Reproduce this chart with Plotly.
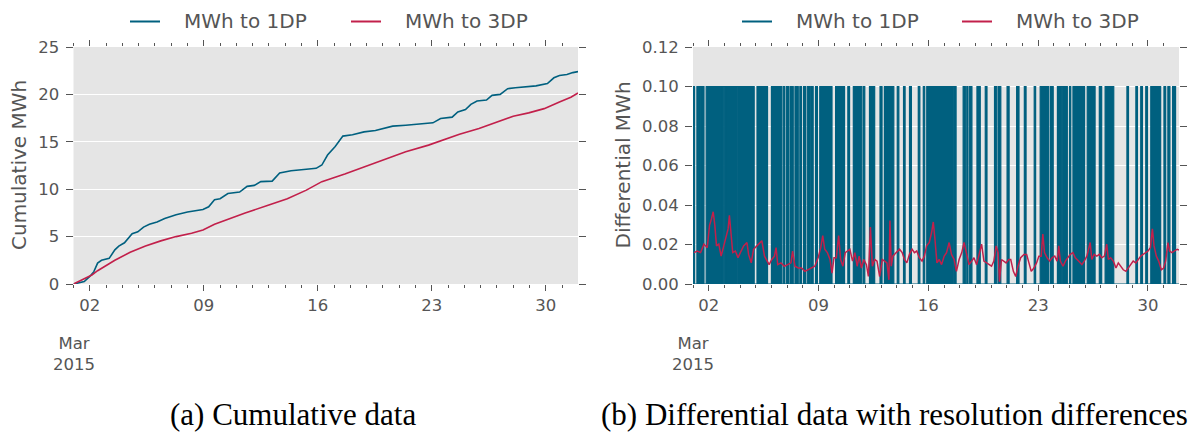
import pandas as pd
import plotly.graph_objects as go

BASE = pd.Timestamp("2015-03-01")

# ---- (a) cumulative data: day offset from 1 Mar 2015 00:00, MWh ----
cum_1dp_day = [0, 0.42, 0.66, 1.0, 1.25, 1.48, 1.72, 2.19, 2.54, 2.78, 3.13, 3.6, 3.95, 4.3, 4.66,
               5.13, 5.6, 6.3, 7.0, 7.95, 8.3, 8.66, 9.0, 9.48, 10.2, 10.66, 11.1, 11.5, 12.2,
               12.66, 13.36, 14.3, 14.9, 15.25, 15.6, 16.07, 16.54, 17.13, 17.84, 18.54, 19.0,
               19.6, 20.4, 21.4, 22.07, 22.54, 23.25, 23.6, 24.07, 24.4, 24.78, 25.36, 25.7,
               26.2, 26.66, 27.13, 27.72, 28.4, 29.1, 29.5, 29.84, 30.3, 30.66, 30.98]
cum_1dp_mwh = [0, 0.14, 0.25, 0.8, 1.3, 2.2, 2.5, 2.7, 3.6, 4.0, 4.35, 5.3, 5.5, 6.0, 6.3,
               6.55, 6.9, 7.3, 7.6, 7.85, 8.15, 8.9, 9.0, 9.55, 9.7, 10.3, 10.4, 10.8, 10.85,
               11.7, 11.95, 12.1, 12.2, 12.55, 13.6, 14.5, 15.6, 15.75, 16.05, 16.2, 16.4,
               16.65, 16.75, 16.9, 17.0, 17.45, 17.6, 18.15, 18.4, 18.95, 19.3, 19.4, 19.9,
               20.0, 20.6, 20.7, 20.8, 20.9, 21.15, 21.75, 22.0, 22.1, 22.3, 22.4]

cum_3dp_day = [0, 0.42, 1.13, 1.48, 2.07, 2.54, 3.48, 4.42, 5.36, 6.3, 7.25, 7.95, 8.66, 9.6,
               10.54, 11.95, 13.13, 14.3, 15.25, 16.66, 17.84, 19.0, 20.4, 21.8, 22.8, 23.7,
               24.9, 26.07, 27.0, 27.95, 28.9, 29.84, 30.54, 30.98]
cum_3dp_mwh = [0, 0.35, 0.95, 1.4, 2.0, 2.5, 3.35, 4.0, 4.55, 5.0, 5.35, 5.7, 6.3, 6.9,
               7.5, 8.3, 9.0, 9.9, 10.8, 11.6, 12.35, 13.05, 13.95, 14.65, 15.25, 15.8,
               16.4, 17.1, 17.7, 18.05, 18.5, 19.2, 19.7, 20.15]

# ---- (b) differential data ----
diff_3dp_day = [0.063, 0.274, 0.485, 0.696, 0.907, 1.055, 1.181, 1.287, 1.392, 1.498, 1.646, 1.793,
                1.962, 2.110, 2.236, 2.321, 2.426, 2.532, 2.700, 2.869, 3.017, 3.228, 3.439, 3.544,
                3.713, 3.861, 4.072, 4.241, 4.388, 4.557, 4.705, 4.852, 5.021, 5.190, 5.295, 5.401,
                5.612, 5.823, 6.034, 6.245, 6.350, 6.498, 6.709, 6.920, 7.131, 7.342, 7.553, 7.764,
                7.975, 8.143, 8.270, 8.397, 8.565, 8.734, 8.861, 8.987, 9.135, 9.283, 9.409, 9.557,
                9.705, 9.873,
                10.000, 10.169, 10.316, 10.464, 10.591, 10.738, 10.886, 11.055, 11.181, 11.308,
                11.435, 11.582, 11.730, 11.899, 12.068, 12.215, 12.363, 12.489, 12.553, 12.637,
                12.743, 12.954, 13.165, 13.333, 13.481, 13.629, 13.797, 13.966, 14.114, 14.262,
                14.430, 14.599, 14.747, 14.895, 15.063, 15.211, 15.316, 15.422, 15.549, 15.696,
                15.844, 16.013, 16.160, 16.329, 16.477, 16.646, 16.793, 16.962, 17.131, 17.278,
                17.426, 17.595, 17.764, 17.911, 18.080, 18.270, 18.397, 18.544, 18.692, 18.861,
                19.030, 19.177, 19.325, 19.451, 19.536, 19.662, 19.810, 19.958, 20.127,
                20.253, 20.422, 20.570, 20.717, 20.886, 21.097, 21.266, 21.414, 21.561, 21.730,
                21.899, 22.046, 22.194, 22.300, 22.405, 22.574, 22.743, 22.890, 23.059, 23.207,
                23.312, 23.418, 23.586, 23.734, 23.882, 24.051, 24.219, 24.367, 24.578, 24.789,
                24.937, 25.105, 25.316, 25.422, 25.570, 25.738, 25.907, 26.055, 26.224, 26.371,
                26.477, 26.624, 26.793, 26.962, 27.110, 27.278, 27.426, 27.595, 27.743, 27.890,
                28.059, 28.228, 28.376, 28.544, 28.692, 28.861, 29.008, 29.156, 29.283, 29.388,
                29.536, 29.684, 29.852, 30.000, 30.127, 30.274, 30.380, 30.527, 30.696, 30.865,
                30.979]
diff_3dp_mwh = [.0159, .0167, .0159, .0202, .0184, .0297, .0331, .0366, .0297, .0193, .0202, .0141,
                .0193, .0245, .0279, .0348, .0245, .0159, .0167, .0133, .0159, .0193, .0210, .0150,
                .0107, .0176, .0193, .0210, .0219, .0141, .0116, .0098, .0124, .0141, .0184, .0098,
                .0107, .0090, .0098, .0107, .0167, .0090, .0081, .0081, .0064, .0072, .0081, .0090,
                .0133, .0184, .0245, .0176, .0159, .0124, .0055, .0133, .0133, .0245, .0124, .0090,
                .0159, .0167,
                .0176, .0116, .0159, .0090, .0141, .0081, .0124, .0098, .0038, .0288,
                .0090, .0124, .0116, .0038, .0124, .0116, .0107, .0021, .0322, .0090,
                .0141, .0159, .0176, .0159, .0124, .0107, .0150, .0176, .0159, .0167,
                .0133, .0116, .0141, .0193, .0210, .0262, .0314, .0228, .0107, .0124,
                .0098, .0141, .0159, .0210, .0150, .0124, .0064, .0124, .0159, .0210,
                .0159, .0098, .0116, .0133, .0098, .0159, .0202, .0116, .0107, .0098,
                .0090, .0116, .0193, .0159, .0012, .0124, .0116, .0107, .0124,
                .0124, .0064, .0038, .0090, .0133, .0150, .0150, .0107, .0064, .0081,
                .0107, .0141, .0141, .0253, .0159, .0133, .0116, .0133, .0141, .0116,
                .0193, .0116, .0090, .0116, .0133, .0150, .0159, .0133, .0116, .0098,
                .0116, .0141, .0210, .0124, .0150, .0141, .0150, .0133, .0141, .0202,
                .0124, .0133, .0116, .0081, .0107, .0090, .0072, .0064, .0081, .0098,
                .0116, .0107, .0124, .0141, .0150, .0159, .0167, .0184, .0279, .0193,
                .0141, .0116, .0072, .0081, .0116, .0210, .0167, .0159, .0167, .0176,
                .0172]

# periods (day offsets) in which the 1DP differential is at its 0.1 MWh step
on_1dp_start = [0.04, 0.25, 0.45, 0.84, 1.92, 2.09, 2.91, 4.08, 5.0, 5.75, 5.95, 6.18, 6.50, 6.81,
                7.05, 7.28, 7.55, 7.81, 8.08, 9.09, 9.87, 10.22, 10.86, 11.25, 11.92, 12.2, 13.02,
                13.42, 13.80, 14.36, 14.68, 14.9, 16.69, 17.22, 17.45, 17.6, 18.1, 18.63, 19.22,
                19.47, 20.02, 20.63, 21.12, 21.75, 22.13, 22.6, 22.79, 23.23, 23.54, 24.0, 24.22,
                25.13, 25.9, 26.27, 27.66, 28.23, 28.54, 28.86, 29.18, 30.02, 30.27, 30.57]
on_1dp_end = [0.10, 0.38, 0.70, 1.86, 2.02, 2.85, 3.90, 4.75, 5.65, 5.84, 6.08, 6.39, 6.71, 6.92,
              7.17, 7.47, 7.66, 7.93, 8.86, 9.66, 9.98, 10.76, 10.95, 11.58, 12.05, 12.8, 13.12,
              13.52, 13.92, 14.46, 14.77, 16.63, 16.77, 17.36, 17.50, 17.78, 18.31, 18.74, 19.37,
              19.62, 20.15, 20.78, 21.23, 21.84, 22.53, 22.68, 22.96, 23.50, 23.86, 24.08, 24.96,
              25.63, 26.05, 26.82, 27.76, 28.33, 28.65, 28.97, 29.81, 30.13, 30.40, 30.76]
ONE_DP_STEP = 0.1

series_names = ["MWh to 1DP", "MWh to 3DP"]
x_tick_days = [1, 8, 15, 22, 29]
x_tick_labels = ["02", "09", "16", "23", "30"]
y1_ticks = [0, 5, 10, 15, 20, 25]
y2_ticks = [0.0, 0.02, 0.04, 0.06, 0.08, 0.10, 0.12]

BLUE = "#00607F"
RED = "#C2204B"
COLORS = [BLUE, RED]
GREY_TXT = "#555555"
FONT = "DejaVu Sans"
TICK_SIZE = 16.5


def to_dt(days):
    return [BASE + pd.Timedelta(days=d) for d in days]


# step series for the 1DP differential
step_days, step_vals = [0.0], [0.0]
for s, e in zip(on_1dp_start, on_1dp_end):
    step_days += [s, e]
    step_vals += [ONE_DP_STEP, 0.0]
step_days.append(30.979)
step_vals.append(0.0)

fig = go.Figure()

fig.add_trace(go.Scatter(x=to_dt(cum_1dp_day), y=cum_1dp_mwh, mode="lines", name=series_names[0],
                         line=dict(color=BLUE, width=1.6), xaxis="x", yaxis="y"))
fig.add_trace(go.Scatter(x=to_dt(cum_3dp_day), y=cum_3dp_mwh, mode="lines", name=series_names[1],
                         line=dict(color=RED, width=1.6), xaxis="x", yaxis="y"))
fig.add_trace(go.Scatter(x=to_dt(step_days), y=step_vals, mode="lines", name=series_names[0],
                         line=dict(color=BLUE, width=1.2, shape="hv"), fill="tozeroy",
                         fillcolor=BLUE, xaxis="x2", yaxis="y2"))
fig.add_trace(go.Scatter(x=to_dt(diff_3dp_day), y=diff_3dp_mwh, mode="lines", name=series_names[1],
                         line=dict(color=RED, width=1.5), xaxis="x2", yaxis="y2"))

W, H = 1192, 432


def px_x(p):
    return p / W


def px_y(p):
    return 1 - p / H


x_start = BASE
x_end = BASE + pd.Timedelta(days=30.979)

xaxis_common = dict(
    type="date", range=[x_start, x_end], tickmode="array",
    tickvals=to_dt(x_tick_days), ticktext=x_tick_labels, automargin=False,
    ticks="outside", ticklen=6, tickwidth=1, tickcolor=GREY_TXT, mirror="ticks",
    showgrid=False, zeroline=False, showline=False,
    tickfont=dict(family=FONT, size=TICK_SIZE, color=GREY_TXT),
    minor=dict(ticks="outside", ticklen=3, tickwidth=1, tickcolor=GREY_TXT, dtick=86400000,
               tick0="2015-03-01", showgrid=False),
)
yaxis_common = dict(
    ticks="outside", ticklen=7, tickwidth=1, tickcolor=GREY_TXT, mirror="ticks",
    showgrid=True, gridcolor="white", gridwidth=1, zeroline=False, showline=False,
    automargin=False, ticklabelstandoff=3,
    tickfont=dict(family=FONT, size=TICK_SIZE, color=GREY_TXT),
)

fig.update_layout(
    width=W, height=H, margin=dict(l=0, r=0, t=0, b=0, autoexpand=False),
    paper_bgcolor="white", plot_bgcolor="#E5E5E5", showlegend=False,
    font=dict(family=FONT, color=GREY_TXT),
    xaxis=dict(domain=[px_x(73.5), px_x(578)], anchor="y", **xaxis_common),
    yaxis=dict(domain=[px_y(284), px_y(47)], anchor="x", range=[0, 25], tickvals=y1_ticks,
               **yaxis_common),
    xaxis2=dict(domain=[px_x(693), px_x(1179)], anchor="y2", **xaxis_common),
    yaxis2=dict(domain=[px_y(284), px_y(47)], anchor="x2", range=[0, 0.12], tickvals=y2_ticks,
                tickformat=".2f", **yaxis_common),
)

annotations = []
shapes = []

# y-axis titles
annotations.append(dict(xref="paper", yref="paper", x=px_x(18.5), y=px_y(165.5),
                        text="Cumulative MWh", textangle=-90, showarrow=False,
                        xanchor="center", yanchor="middle",
                        font=dict(family=FONT, size=20, color=GREY_TXT)))
annotations.append(dict(xref="paper", yref="paper", x=px_x(622), y=px_y(165.5),
                        text="Differential MWh", textangle=-90, showarrow=False,
                        xanchor="center", yanchor="middle",
                        font=dict(family=FONT, size=20, color=GREY_TXT)))

# legends above each panel (line sample + label)
legend_line_x = [[130, 351], [742, 962]]
for panel in range(2):
    for i, name in enumerate(series_names):
        x0 = legend_line_x[panel][i]
        shapes.append(dict(type="line", xref="paper", yref="paper",
                           x0=px_x(x0), x1=px_x(x0 + 30), y0=px_y(21.5), y1=px_y(21.5),
                           line=dict(color=COLORS[i], width=2)))
        annotations.append(dict(xref="paper", yref="paper", x=px_x(x0 + 52), y=px_y(21),
                                text=name, showarrow=False, xanchor="left", yanchor="middle",
                                font=dict(family=FONT, size=20, color=GREY_TXT)))

for xr in ["x", "x2"]:
    annotations.append(dict(xref=xr, yref="paper", x=x_start, y=px_y(332), text="Mar<br>2015",
                            showarrow=False, xanchor="center", yanchor="top",
                            font=dict(family=FONT, size=TICK_SIZE, color=GREY_TXT)))
annotations.append(dict(xref="paper", yref="paper", x=px_x(293), y=px_y(414),
                        text="(a) Cumulative data", showarrow=False, xanchor="center",
                        yanchor="middle", font=dict(family="Liberation Serif", size=31, color="black")))
annotations.append(dict(xref="paper", yref="paper", x=px_x(894), y=px_y(414),
                        text="(b) Differential data with resolution differences", showarrow=False,
                        xanchor="center", yanchor="middle",
                        font=dict(family="Liberation Serif", size=31, color="black")))
fig.update_layout(annotations=annotations, shapes=shapes)

fig.write_html("out.html", config={"displayModeBar": False},
               post_script="document.body.style.margin='0';document.body.style.padding='0';"
                           "document.body.style.overflow='hidden';")
